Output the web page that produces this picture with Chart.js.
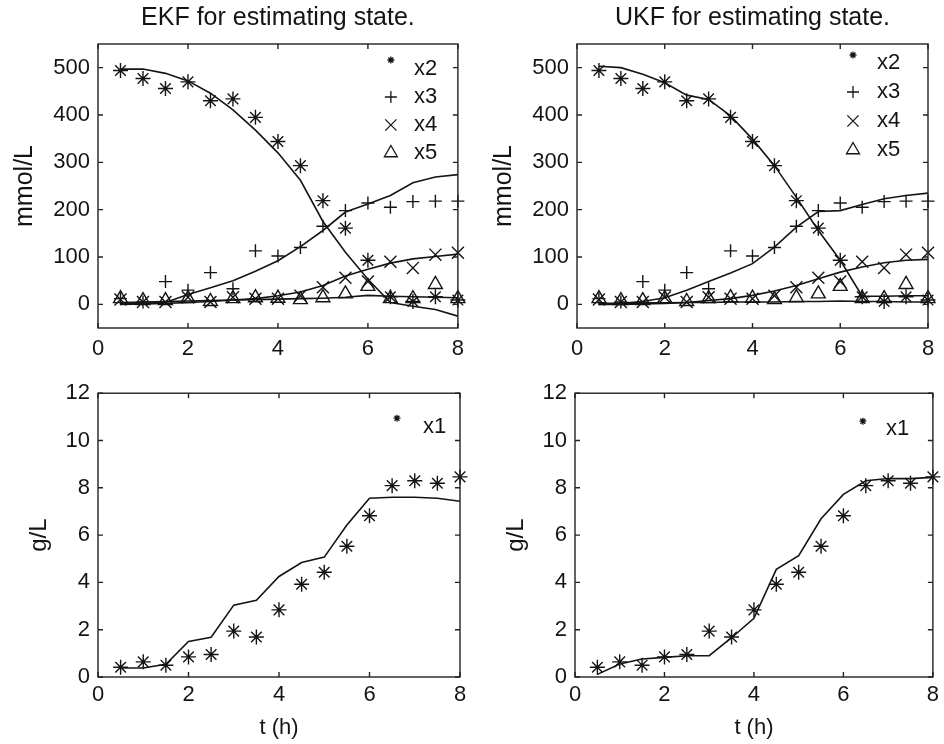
<!DOCTYPE html>
<html><head><meta charset="utf-8">
<script src="https://cdn.jsdelivr.net/npm/chart.js@4/dist/chart.umd.min.js"></script>
<style>
html,body{margin:0;padding:0;background:#fff;}
#wrap{position:relative;width:944px;height:744px;overflow:hidden;}
.p{position:absolute;width:472px;height:372px;}
</style></head><body>
<div id="wrap">
<div class="p" style="left:0;top:0"><canvas id="c1"></canvas></div>
<div class="p" style="left:472px;top:0"><canvas id="c2"></canvas></div>
<div class="p" style="left:0;top:372px"><canvas id="c3"></canvas></div>
<div class="p" style="left:472px;top:372px"><canvas id="c4"></canvas></div>
</div>
<script>
// ---- data ----
const tHours = [0.5,1,1.5,2,2.5,3,3.5,4,4.5,5,5.5,6,6.5,7,7.5,8];
const xTicks = [0,2,4,6,8];
const topTicksY = [0,100,200,300,400,500];
const botTicksY = [0,2,4,6,8,10,12];
const topLegend = ['x2','x3','x4','x5'];
const botLegend = ['x1'];
const panelTitles = ['EKF for estimating state.','UKF for estimating state.'];

// measured values (markers)
const measX1 = [0.41,0.64,0.50,0.85,0.95,1.94,1.69,2.84,3.92,4.43,5.53,6.82,8.09,8.30,8.19,8.46];
const measX2 = [494,477,456,470,430,434,395,344,293,219,161,93,16,6,16,9];
const measX3 = [12,5,48,30,67,33,113,102,120,165,198,214,205,217,218,218];
const measX4 = [10,5,5,15,5,15,12,12,18,36,56,48,90,77,105,109];
const measX5 = [12,8,8,12,6,12,14,13,10,14,22,38,12,12,42,12];

// EKF estimates (lines)
const ekfX1 = [0.38,0.38,0.54,1.50,1.68,3.04,3.24,4.25,4.84,5.07,6.43,7.56,7.60,7.60,7.56,7.43];
const ekfX2 = [497,497,488,472,446,411,368,320,262,175,110,53,4,-4,-11,-25];
const ekfX3 = [2,2,4,21,35,50,70,92,122,156,195,212,230,257,269,274];
const ekfX4 = [0,1,2,4,6,9,12,18,26,40,60,74,87,96,101,106];
const ekfX5 = [4,5,6,7,8,9,10,11,12,13,15,19,17,16,15,14];

// UKF estimates (lines)
const ukfX1 = [0.11,0.55,0.76,0.83,0.90,0.90,1.66,2.48,4.55,5.13,6.69,7.72,8.30,8.39,8.39,8.44];
const ukfX2 = [503,500,486,468,442,433,398,349,293,226,156,93,17,17,18,18];
const ukfX3 = [0,2,6,14,30,48,66,86,121,163,196,198,211,223,230,235];
const ukfX4 = [0,0,1,2,4,8,12,19,28,40,54,68,79,88,93,95];
const ukfX5 = [2,2,3,3,4,4,5,5,5,6,6,7,6,6,5,5];

// ---- helpers ----
const INK = '#141414';
const FONT = '"Liberation Sans", Arial, Helvetica, sans-serif';
Chart.defaults.font.family = FONT;
Chart.defaults.color = INK;

function pts(ys){ return tHours.map((t,i)=>({x:t,y:ys[i]})); }
function lineDs(ys){
  return {data:pts(ys), showLine:true, borderColor:INK, borderWidth:1.6, pointRadius:0, pointHoverRadius:0, fill:false, tension:0, order:2};
}
function markDs(label, ys, style, r){
  return {label, data:pts(ys), showLine:false, pointStyle:style, pointRadius:r, pointHoverRadius:r,
    borderColor:INK, backgroundColor:'rgba(0,0,0,0)', pointBorderWidth:1.4, borderWidth:1.4, clip:false, order:1};
}

const boxTicks = {
  id:'boxTicks',
  afterDatasetsDraw(chart){
    const {ctx, chartArea:a, scales:{x,y}} = chart;
    ctx.save();
    ctx.strokeStyle = '#222'; ctx.lineWidth = 1.4;
    ctx.strokeRect(a.left, a.top, a.right-a.left, a.bottom-a.top);
    const L = 5;
    ctx.beginPath();
    x.ticks.forEach(t=>{const p=x.getPixelForValue(t.value);
      ctx.moveTo(p,a.bottom); ctx.lineTo(p,a.bottom-L); ctx.moveTo(p,a.top); ctx.lineTo(p,a.top+L);});
    y.ticks.forEach(t=>{const p=y.getPixelForValue(t.value);
      ctx.moveTo(a.left,p); ctx.lineTo(a.left+L,p); ctx.moveTo(a.right,p); ctx.lineTo(a.right-L,p);});
    ctx.stroke();
    ctx.restore();
  }
};

const cornerLegend = {
  id:'cornerLegend',
  afterDraw(chart, args, o){
    if(!o || !o.items) return;
    const {ctx, chartArea:a} = chart;
    ctx.save();
    o.items.forEach((it,i)=>{
      const yy = a.top + o.top + i*o.gap;
      ctx.strokeStyle = INK; ctx.fillStyle = 'rgba(0,0,0,0)'; ctx.lineWidth = 1.3;
      Chart.helpers.drawPoint(ctx, {pointStyle:it.style, radius:it.r, rotation:0, borderWidth:1.3}, a.right - o.mark, yy + (it.dy||0));
      ctx.font = '22px ' + FONT; ctx.fillStyle = INK; ctx.textBaseline = 'middle'; ctx.textAlign = 'left';
      ctx.fillText(it.label, a.right - o.text, yy);
    });
    ctx.restore();
  }
};

function makeChart(id, cfg){
  const yTicks = cfg.yTicks;
  return new Chart(document.getElementById(id), {
    type:'scatter',
    data:{datasets:cfg.datasets},
    options:{
      responsive:true, maintainAspectRatio:false, animation:false,
      events:[],
      layout:{padding:cfg.padding},
      plugins:{
        legend:{display:false}, tooltip:{enabled:false},
        title:cfg.title ? {display:true, text:cfg.title, fullSize:false, color:INK,
          font:{size:25, weight:'normal', family:FONT}, padding:{top:3,bottom:11}} : {display:false},
        cornerLegend:cfg.legend
      },
      scales:{
        x:{type:'linear', position:'bottom', min:0, max:8,
          grid:{display:false, drawTicks:false}, border:{display:false},
          ticks:{padding:cfg.xPad, font:{size:22}, color:INK, maxRotation:0, autoSkip:false},
          afterBuildTicks:s=>{s.ticks = xTicks.map(v=>({value:v}));},
          afterFit:s=>{s.height = cfg.xH;},
          title:cfg.xTitle ? {display:true, text:cfg.xTitle, font:{size:22}, color:INK, padding:{top:0,bottom:3}} : {display:false}
        },
        y:{type:'linear', position:'left', min:cfg.yMin, max:cfg.yMax,
          grid:{display:false, drawTicks:false}, border:{display:false},
          ticks:{padding:8, font:{size:22}, color:INK, autoSkip:false},
          afterBuildTicks:s=>{s.ticks = yTicks.map(v=>({value:v}));},
          afterFit:s=>{s.width = cfg.yW;},
          title:{display:true, text:cfg.yTitle, font:{size:cfg.yTitleSize}, color:INK, padding:{top:0,bottom:0}}
        }
      }
    },
    plugins:[boxTicks, cornerLegend]
  });
}

function topSets(l2,l3,l4,l5){
  return [lineDs(l2), lineDs(l3), lineDs(l4), lineDs(l5),
    markDs(topLegend[0], measX2, 'star', 7.5),
    markDs(topLegend[1], measX3, 'cross', 6.5),
    markDs(topLegend[2], measX4, 'crossRot', 8.5),
    markDs(topLegend[3], measX5, 'triangle', 8)];
}
function topLegendItems(dy){
  return [{label:topLegend[0], style:'star', r:3.5, dy:dy},
          {label:topLegend[1], style:'cross', r:6},
          {label:topLegend[2], style:'crossRot', r:8},
          {label:topLegend[3], style:'triangle', r:7.5}];
}

makeChart('c1', {
  datasets: topSets(ekfX2, ekfX3, ekfX4, ekfX5),
  padding:{left:10, right:13, top:0, bottom:0},
  title: panelTitles[0], yTitle:'mmol/L', yTitleSize:25, yMin:-50, yMax:550, yTicks:topTicksY,
  yW:88, xH:44, xPad:8,
  legend:{items:topLegendItems(-9), top:25, gap:28, mark:67, text:44}
});
makeChart('c2', {
  datasets: topSets(ukfX2, ukfX3, ukfX4, ukfX5),
  padding:{left:17, right:16, top:0, bottom:0},
  title: panelTitles[1], yTitle:'mmol/L', yTitleSize:25, yMin:-50, yMax:550, yTicks:topTicksY,
  yW:88, xH:44, xPad:8,
  legend:{items:topLegendItems(-8), top:19, gap:29, mark:75, text:51}
});
makeChart('c3', {
  datasets: [lineDs(ekfX1), markDs(botLegend[0], measX1, 'star', 7.5)],
  padding:{left:25, right:12, top:11, bottom:0},
  title:null, yTitle:'g/L', yTitleSize:24, yMin:0, yMax:12, yTicks:botTicksY,
  yW:73, xH:67, xPad:5, xTitle:'t (h)',
  legend:{items:[{label:botLegend[0], style:'star', r:3.5, dy:-9}], top:34, gap:28, mark:63, text:37}
});
makeChart('c4', {
  datasets: [lineDs(ukfX1), markDs(botLegend[0], measX1, 'star', 7.5)],
  padding:{left:30, right:9, top:14, bottom:0},
  title:null, yTitle:'g/L', yTitleSize:24, yMin:0, yMax:12, yTicks:botTicksY,
  yW:73, xH:67, xPad:5, xTitle:'t (h)',
  legend:{items:[{label:botLegend[0], style:'star', r:3.5, dy:-8}], top:36, gap:28, mark:70, text:47}
});
</script>
</body></html>
